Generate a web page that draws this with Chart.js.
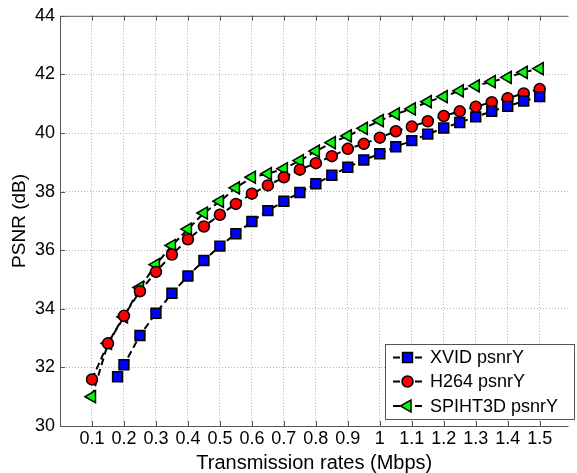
<!DOCTYPE html>
<html>
<head>
<meta charset="utf-8">
<script src="https://cdn.jsdelivr.net/npm/chart.js@4/dist/chart.umd.min.js"></script>
<style>
    body { margin: 0; background: #fff; }
    #wrap { width: 577px; height: 473px; }
</style>
</head>
<body>
<div id="wrap"><canvas id="psnr-chart" width="577" height="473"></canvas></div>
<script>
// Transmission rates (Mbps)
const rates = [0.1, 0.15, 0.2, 0.25, 0.3, 0.35, 0.4, 0.45, 0.5, 0.55, 0.6, 0.65, 0.7, 0.75, 0.8,
    0.85, 0.9, 0.95, 1.0, 1.05, 1.1, 1.15, 1.2, 1.25, 1.3, 1.35, 1.4, 1.45, 1.5];
const xvidRates = [0.18, 0.2, 0.25, 0.3, 0.35, 0.4, 0.45, 0.5, 0.55, 0.6, 0.65, 0.7, 0.75, 0.8,
    0.85, 0.9, 0.95, 1.0, 1.05, 1.1, 1.15, 1.2, 1.25, 1.3, 1.35, 1.4, 1.45, 1.5];

// PSNR (dB)
const xvidPsnr = [31.68, 32.09, 33.09, 33.85, 34.53, 35.12, 35.65, 36.14, 36.56, 36.98, 37.35, 37.67,
    37.97, 38.27, 38.56, 38.83, 39.08, 39.29, 39.53, 39.74, 39.96, 40.17, 40.36, 40.55, 40.74, 40.91,
    41.09, 41.24];
const h264Psnr = [31.59, 32.82, 33.76, 34.6, 35.26, 35.85, 36.37, 36.81, 37.21, 37.58, 37.93, 38.21,
    38.49, 38.75, 38.97, 39.21, 39.46, 39.63, 39.84, 40.06, 40.22, 40.4, 40.58, 40.74, 40.9, 41.05,
    41.19, 41.35, 41.5];
const spihtPsnr = [31.0, 32.82, 33.72, 34.73, 35.51, 36.16, 36.72, 37.27, 37.67, 38.13, 38.49, 38.61,
    38.78, 39.06, 39.38, 39.67, 39.9, 40.16, 40.42, 40.65, 40.82, 41.07, 41.24, 41.44, 41.61, 41.75,
    41.9, 42.07, 42.2];

const seriesNames = ['XVID psnrY', 'H264 psnrY', 'SPIHT3D psnrY'];
const xTicks = [0.1, 0.2, 0.3, 0.4, 0.5, 0.6, 0.7, 0.8, 0.9, 1, 1.1, 1.2, 1.3, 1.4, 1.5];
const yTicks = [30, 32, 34, 36, 38, 40, 42, 44];

const FONT = 'Liberation Sans, Arial, sans-serif';
const AXIS_COLOR = '#555';

function toPoints(xs, ys) {
    return xs.map((x, i) => ({ x: x, y: ys[i] }));
}

function seriesStyle(color, pointStyle, radius, rotation) {
    return {
        showLine: true,
        borderColor: '#000',
        borderWidth: 2,
        borderDash: [7, 4],
        pointStyle: pointStyle,
        pointRadius: radius,
        pointRotation: rotation,
        pointBackgroundColor: color,
        pointBorderColor: '#000',
        pointBorderWidth: 1.5
    };
}

// matlab-like box, inward ticks and the legend inside the plot
const boxPlugin = {
    id: 'boxPlugin',
    afterDraw(chart) {
        const { ctx, chartArea: area, scales } = chart;
        ctx.save();
        ctx.strokeStyle = AXIS_COLOR;
        ctx.lineWidth = 1;
        ctx.setLineDash([]);
        ctx.beginPath();
        ctx.moveTo(area.left, area.top + 0.5);
        ctx.lineTo(area.right, area.top + 0.5);
        ctx.moveTo(area.left + 0.5, area.top);
        ctx.lineTo(area.left + 0.5, area.bottom);
        ctx.moveTo(area.left, area.bottom + 0.5);
        ctx.lineTo(area.right, area.bottom + 0.5);
        xTicks.forEach(v => {
            const px = Math.round(scales.x.getPixelForValue(v)) + 0.5;
            ctx.moveTo(px, area.bottom);
            ctx.lineTo(px, area.bottom - 5);
            ctx.moveTo(px, area.top);
            ctx.lineTo(px, area.top + 5);
        });
        yTicks.forEach(v => {
            const py = Math.round(scales.y.getPixelForValue(v)) + 0.5;
            ctx.moveTo(area.left, py);
            ctx.lineTo(area.left + 5, py);
        });
        ctx.stroke();

        // legend
        const lx = 385, ly = 344, lw = 189, lh = 75;
        ctx.fillStyle = '#fff';
        ctx.fillRect(lx, ly, lw, lh);
        ctx.strokeRect(lx + 0.5, ly + 0.5, lw, lh);
        const rows = [357.5, 381.5, 406];
        chart.data.datasets.forEach((ds, i) => {
            const y = rows[i];
            ctx.strokeStyle = '#000';
            ctx.lineWidth = 2;
            ctx.setLineDash([7, 4]);
            ctx.beginPath();
            ctx.moveTo(393, y);
            ctx.lineTo(422, y);
            ctx.stroke();
            ctx.setLineDash([]);
            ctx.fillStyle = ds.pointBackgroundColor;
            ctx.strokeStyle = '#000';
            ctx.lineWidth = 1.5;
            Chart.helpers.drawPoint(ctx, {
                pointStyle: ds.pointStyle,
                rotation: ds.pointRotation,
                radius: ds.pointRadius,
                borderWidth: 1.5
            }, 407.5, y);
            ctx.fillStyle = '#000';
            ctx.font = '18px ' + FONT;
            ctx.textBaseline = 'middle';
            ctx.textAlign = 'left';
            ctx.fillText(ds.label, 430, y + 1);
        });
        ctx.restore();
    }
};

function renderPsnrChart(canvasId) {
    const canvas = document.querySelector(`#${canvasId}`);
    if (!canvas) return;

    new Chart(canvas, {
        type: 'scatter',
        data: {
            datasets: [
                { label: seriesNames[0], data: toPoints(xvidRates, xvidPsnr), ...seriesStyle('#0000ff', 'rect', 7, 0) },
                { label: seriesNames[1], data: toPoints(rates, h264Psnr), ...seriesStyle('#ff0000', 'circle', 5.5, 0) },
                { label: seriesNames[2], data: toPoints(rates, spihtPsnr), ...seriesStyle('#00ff00', 'triangle', 7, -90) }
            ]
        },
        options: {
            responsive: false,
            animation: false,
            layout: { padding: { top: 15, right: 0, left: 0, bottom: 0 } },
            scales: {
                x: {
                    type: 'linear',
                    min: 0,
                    max: 1.59,
                    afterBuildTicks: scale => { scale.ticks = xTicks.map(v => ({ value: v })); },
                    afterFit: scale => { scale.height = 47; },
                    ticks: {
                        color: '#000',
                        padding: 2,
                        maxRotation: 0,
                        autoSkip: false,
                        font: { family: FONT, size: 18 },
                        callback: v => String(v)
                    },
                    grid: {
                        color: '#b4b4b4',
                        lineWidth: 1,
                        drawTicks: false
                    },
                    border: { display: false, dash: [1, 2] },
                    title: {
                        display: true,
                        text: 'Transmission rates (Mbps)',
                        color: '#000',
                        font: { family: FONT, size: 20, lineHeight: 1 },
                        padding: { top: 0, bottom: 0 }
                    }
                },
                y: {
                    min: 30,
                    max: 44,
                    afterBuildTicks: scale => { scale.ticks = yTicks.map(v => ({ value: v })); },
                    afterFit: scale => { scale.width = 60; },
                    ticks: {
                        color: '#000',
                        padding: 5,
                        font: { family: FONT, size: 18 }
                    },
                    grid: {
                        color: ctx => (ctx.tick && (ctx.tick.value === 30 || ctx.tick.value === 44)) ? 'rgba(0,0,0,0)' : '#b4b4b4',
                        lineWidth: 1,
                        drawTicks: false
                    },
                    border: { display: false, dash: [1, 2] },
                    title: {
                        display: true,
                        text: 'PSNR (dB)',
                        color: '#000',
                        font: { family: FONT, size: 19, lineHeight: 1 },
                        padding: { top: 10, bottom: 0 }
                    }
                }
            },
            plugins: {
                legend: { display: false },
                tooltip: { enabled: false }
            }
        },
        plugins: [boxPlugin]
    });
}

renderPsnrChart('psnr-chart');
</script>
</body>
</html>
